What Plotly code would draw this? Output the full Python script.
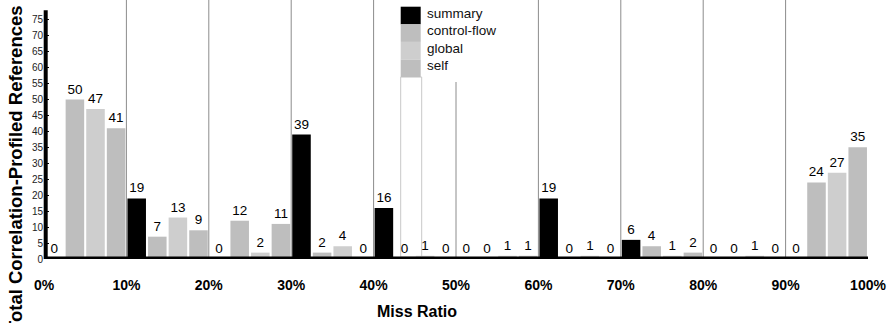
import plotly.graph_objects as go

# Miss-ratio bins (0-10%, 10-20%, ..., 90-100%)
bins = [5, 15, 25, 35, 45, 55, 65, 75, 85, 95]
tick_vals = [0, 10, 20, 30, 40, 50, 60, 70, 80, 90, 100]
tick_text = ["0%", "10%", "20%", "30%", "40%", "50%", "60%", "70%", "80%", "90%", "100%"]
y_ticks = [0, 5, 10, 15, 20, 25, 30, 35, 40, 45, 50, 55, 60, 65, 70, 75]

# Reference counts per bin for each correlation type
summary = [0, 19, 0, 39, 16, 0, 19, 6, 0, 0]
control_flow = [50, 7, 12, 2, 0, 0, 0, 4, 0, 24]
global_refs = [47, 13, 2, 4, 1, 1, 1, 1, 1, 27]
self_refs = [41, 9, 11, 0, 0, 1, 0, 2, 0, 35]

series = [
    ("summary", summary, "#000000"),
    ("control-flow", control_flow, "#bebebe"),
    ("global", global_refs, "#cecece"),
    ("self", self_refs, "#bebebe"),
]

FONT = "Liberation Sans, Arial, sans-serif"

W, H = 887, 323
L, R, T, B = 44, 868, 0, 259


def fx(px):
    return (px - L) / (R - L)


def fy(py):
    return (B - py) / (B - T)


fig = go.Figure()
for name, vals, color in series:
    fig.add_trace(go.Bar(
        x=bins, y=vals, name=name,
        marker=dict(color=color, line=dict(width=0)),
        texttemplate="%{y}", textposition="outside",
        textfont=dict(family=FONT, size=13.5, color="black"),
        outsidetextfont=dict(family=FONT, size=13.5, color="black"),
        constraintext="none", cliponaxis=False,
        showlegend=False,
    ))

shapes = []
# vertical separators between bins
for v in tick_vals[1:-1]:
    shapes.append(dict(type="line", xref="x", yref="paper", x0=v, x1=v, y0=0, y1=1,
                       line=dict(color="#8c8c8c", width=1), layer="below"))
# legend background
shapes.append(dict(type="rect", xref="paper", yref="paper",
                   x0=fx(399.5), x1=fx(505), y0=fy(82), y1=fy(0),
                   fillcolor="white", line=dict(width=0), layer="below"))
shapes.append(dict(type="rect", xref="paper", yref="paper",
                   x0=fx(400.7), x1=fx(421.7), y0=fy(257), y1=fy(77),
                   fillcolor="rgba(0,0,0,0)", line=dict(color="#c8c8c8", width=1), layer="below"))
# axes lines
shapes.append(dict(type="line", xref="paper", yref="y", x0=fx(45.7), x1=fx(45.7), y0=0, y1=78,
                   line=dict(color="black", width=4), layer="above"))
shapes.append(dict(type="line", xref="x", yref="y", x0=0, x1=100, y0=0, y1=0,
                   line=dict(color="black", width=5), layer="above"))

annotations = []
# legend swatches and labels
row_top, row_h = 6.7, 17.6
for i, (name, vals, color) in enumerate(series):
    y0 = row_top + i * row_h
    shapes.append(dict(type="rect", xref="paper", yref="paper",
                       x0=fx(400.7), x1=fx(420.7), y0=fy(y0 + row_h), y1=fy(y0),
                       fillcolor=color, line=dict(width=0), layer="above"))
    annotations.append(dict(text=name, xref="paper", yref="paper",
                            x=fx(424.5), y=fy(y0 + row_h / 2 - 2.5),
                            xanchor="left", yanchor="middle", showarrow=False,
                            font=dict(family=FONT, size=13.5, color="#111111")))

annotations.append(dict(text="Total Correlation-Profiled References", xref="paper", yref="paper",
                        x=fx(15), y=fy(169), textangle=-90, showarrow=False,
                        xanchor="center", yanchor="middle",
                        font=dict(family=FONT, size=18.5, color="black", weight="bold")))
annotations.append(dict(text="Miss Ratio", xref="paper", yref="paper",
                        x=fx(417), y=fy(311), showarrow=False,
                        xanchor="center", yanchor="middle",
                        font=dict(family=FONT, size=16, color="black", weight="bold")))

fig.update_layout(
    width=W, height=H,
    margin=dict(l=L, r=W - R, t=T, b=H - B, pad=0),
    paper_bgcolor="white", plot_bgcolor="white",
    barmode="group", bargap=0, bargroupgap=0.1,
    shapes=shapes, annotations=annotations,
    xaxis=dict(range=[0, 100], tickmode="array", tickvals=tick_vals, ticktext=tick_text,
               showgrid=False, zeroline=False, showline=False, ticks="",
               ticklabelstandoff=16,
               tickfont=dict(family=FONT, size=14, color="black", weight="bold")),
    yaxis=dict(range=[0, (B - T) / 3.19], tickmode="array", tickvals=y_ticks,
               showgrid=False, zeroline=False, showline=False,
               ticks="inside", ticklen=5, tickwidth=1, tickcolor="black",
               tickfont=dict(family=FONT, size=10, color="#222222")),
)

fig.write_html("out.html")
